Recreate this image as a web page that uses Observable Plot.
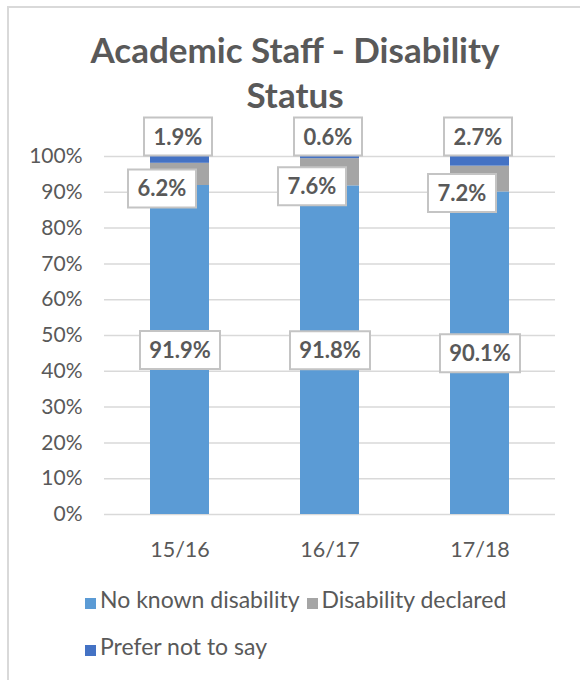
<!DOCTYPE html>
<html>
<head>
<meta charset="utf-8">
<script src="https://cdn.jsdelivr.net/npm/d3@7"></script>
<script src="https://cdn.jsdelivr.net/npm/@observablehq/plot@0.6"></script>
<style>
  body { margin: 0; background: #fff; }
  #wrap { position: relative; width: 580px; height: 680px; overflow: hidden; font-family: Lato, "Open Sans", sans-serif; background: #fff; }
  #frame { position: absolute; left: 7px; top: 6px; width: 640px; height: 740px; border: 2px solid #d9d9d9; box-sizing: border-box; }
  #title { position: absolute; left: 7px; width: 576px; top: 27px; text-align: center; font-weight: bold; font-size: 35px; line-height: 45px; color: #595959; }
  #chart { position: absolute; left: 0; top: 100px; }
  #legend { position: absolute; left: 85px; top: 586px; width: 470px; display: flex; flex-wrap: wrap; row-gap: 21px; font-size: 23px; line-height: 26px; color: #595959; }
  .item { display: flex; align-items: flex-start; margin-right: 7px; white-space: nowrap; }
  .sw { width: 11px; height: 11px; margin-top: 12px; margin-right: 4px; flex: none; }
</style>
</head>
<body>
<div id="wrap">
  <div id="frame"></div>
  <div id="title">Academic Staff - Disability<br>Status</div>
  <div id="chart"></div>
  <div id="legend"></div>
</div>
<script>
// ---- data ----
const years = ["15/16", "16/17", "17/18"];
const seriesNames = ["No known disability", "Disability declared", "Prefer not to say"];
const seriesColors = ["#5B9BD5", "#A5A5A5", "#4472C4"];
const noKnown = [91.9, 91.8, 90.1];
const declared = [6.2, 7.6, 7.2];
const preferNot = [1.9, 0.6, 2.7];
const yTicks = [0, 10, 20, 30, 40, 50, 60, 70, 80, 90, 100];

// ---- build table ----
const seriesValues = [noKnown, declared, preferNot];
const rows = [];
years.forEach((year, i) => {
  let start = 0;
  seriesNames.forEach((series, s) => {
    const value = seriesValues[s][i];
    rows.push({year, series, value, mid: start + value / 2, top: start + value});
    start += value;
  });
});
const bySeries = (name) => rows.filter(d => d.series === name);

function boxSymbol(w, h) {
  return {
    draw(ctx) {
      ctx.moveTo(-w / 2, -h / 2);
      ctx.lineTo(w / 2, -h / 2);
      ctx.lineTo(w / 2, h / 2);
      ctx.lineTo(-w / 2, h / 2);
      ctx.closePath();
    }
  };
}
const fmt = d => d.value.toFixed(1) + "%";
const boxStyle = {fill: "white", stroke: "#c4c4c4", strokeWidth: 2};
const labelStyle = {fontWeight: "bold", fontSize: 22, fill: "#595959"};

const chart = Plot.plot({
  width: 580,
  height: 480,
  marginTop: 56,
  marginBottom: 66,
  marginLeft: 104,
  marginRight: 25,
  style: {fontFamily: "Lato, 'Open Sans', sans-serif", fontSize: "21px", color: "#595959", background: "transparent", overflow: "visible"},
  x: {domain: years, paddingInner: 0.61, paddingOuter: 0.305, label: null},
  y: {domain: [0, 100], label: null},
  color: {domain: seriesNames, range: seriesColors},
  marks: [
    Plot.gridY(yTicks, {stroke: "#d9d9d9", strokeOpacity: 1, strokeWidth: 1.5}),
    Plot.barY(rows, {x: "year", y: "value", fill: "series"}),
    // labels: No known disability (centered)
    Plot.dot(bySeries(seriesNames[0]), {x: "year", y: "mid", symbol: boxSymbol(80, 38), ...boxStyle}),
    Plot.text(bySeries(seriesNames[0]), {x: "year", y: "mid", dy: 1, text: fmt, ...labelStyle}),
    // labels: Disability declared
    Plot.dot(bySeries(seriesNames[1]), {x: "year", y: "mid", dx: -18, dy: 14, symbol: boxSymbol(68, 38), ...boxStyle}),
    Plot.text(bySeries(seriesNames[1]), {x: "year", y: "mid", dx: -18, dy: 15, text: fmt, ...labelStyle}),
    // labels: Prefer not to say (above bar)
    Plot.dot(bySeries(seriesNames[2]), {x: "year", y: "top", dx: -2, dy: -20, symbol: boxSymbol(68, 38), ...boxStyle}),
    Plot.text(bySeries(seriesNames[2]), {x: "year", y: "top", dx: -2, dy: -19, text: fmt, ...labelStyle}),
    Plot.axisX({tickSize: 0, tickPadding: 27, fontSize: 21.5}),
    Plot.axisY({ticks: yTicks, tickFormat: d => d + "%", tickSize: 0, tickPadding: 22, fontSize: 21})
  ]
});
document.getElementById("chart").appendChild(chart);

// ---- legend ----
const legend = document.getElementById("legend");
seriesNames.forEach((name, i) => {
  const item = document.createElement("div");
  item.className = "item";
  const sw = document.createElement("span");
  sw.className = "sw";
  sw.style.background = seriesColors[i];
  const label = document.createElement("span");
  label.textContent = name;
  item.appendChild(sw);
  item.appendChild(label);
  legend.appendChild(item);
});
</script>
</body>
</html>
